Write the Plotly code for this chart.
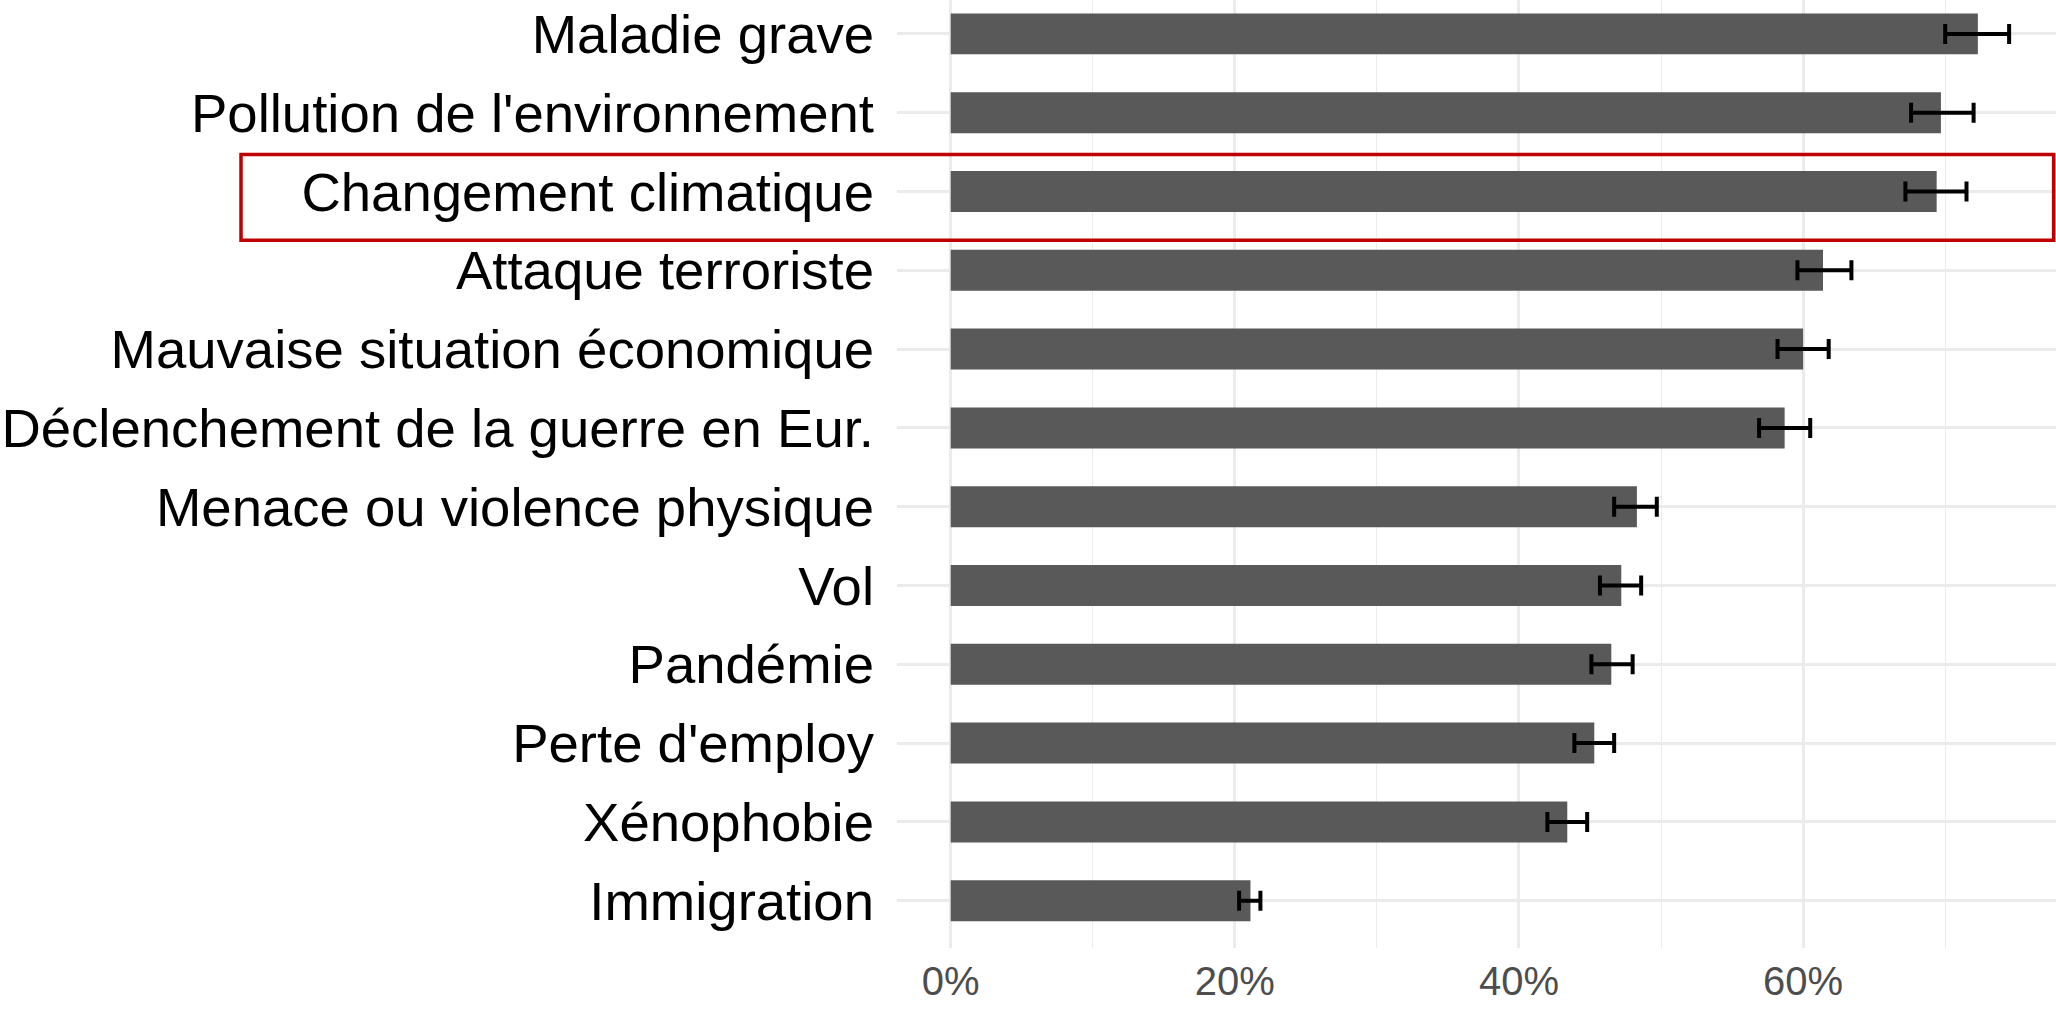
import plotly.graph_objects as go

# Risk categories, listed from bottom to top of the chart
categories = [
    "Immigration",
    "Xénophobie",
    "Perte d'employ",
    "Pandémie",
    "Vol",
    "Menace ou violence physique",
    "Déclenchement de la guerre en Eur.",
    "Mauvaise situation économique",
    "Attaque terroriste",
    "Changement climatique",
    "Pollution de l'environnement",
    "Maladie grave",
]

# Share of respondents (%) and confidence interval bounds (%)
share = [21.1, 43.4, 45.3, 46.5, 47.2, 48.3, 58.7, 60.0, 61.4, 69.4, 69.7, 72.3]
ci_low = [20.3, 42.0, 43.9, 45.1, 45.7, 46.7, 56.9, 58.2, 59.6, 67.2, 67.6, 70.0]
ci_high = [21.8, 44.8, 46.7, 48.0, 48.6, 49.7, 60.5, 61.8, 63.4, 71.5, 72.0, 74.5]

x_ticks = [0, 20, 40, 60]
x_tick_labels = ["0%", "20%", "40%", "60%"]

highlight = "Changement climatique"

err_plus = [h - v for h, v in zip(ci_high, share)]
err_minus = [v - l for v, l in zip(share, ci_low)]

FONT = "Liberation Sans, Arial, Helvetica, sans-serif"
GRID = "#ebebeb"

fig = go.Figure(
    go.Bar(
        x=share,
        y=categories,
        orientation="h",
        width=0.52,
        marker=dict(color="#595959", line=dict(width=0)),
        error_x=dict(
            type="data",
            symmetric=False,
            array=err_plus,
            arrayminus=err_minus,
            color="black",
            thickness=4,
            width=10,
        ),
        hoverinfo="x+y",
    )
)

# Highlight box around the climate-change row, reaching into the label margin
hi = categories.index(highlight)
fig.add_shape(
    type="rect",
    xref="paper",
    yref="y",
    x0=-0.566,
    x1=0.998,
    y0=hi - 0.62,
    y1=hi + 0.47,
    line=dict(color="#c00000", width=3.5),
    fillcolor="rgba(0,0,0,0)",
    layer="above",
)

fig.update_layout(
    width=2056,
    height=1010,
    margin=dict(l=897, r=0, t=0, b=62, autoexpand=False),
    paper_bgcolor="white",
    plot_bgcolor="white",
    showlegend=False,
    bargap=0.48,
    font=dict(family=FONT),
    xaxis=dict(
        range=[-3.78, 77.8],
        tickmode="array",
        tickvals=x_ticks,
        ticktext=x_tick_labels,
        tickfont=dict(size=40, color="#4d4d4d", family=FONT),
        showgrid=True,
        gridcolor=GRID,
        gridwidth=2.7,
        zeroline=False,
        showline=False,
        ticks="",
        ticklabelstandoff=6,
        automargin=False,
        minor=dict(
            tickmode="array",
            tickvals=[10, 30, 50, 70],
            showgrid=True,
            gridcolor=GRID,
            gridwidth=1.4,
            ticks="",
        ),
        fixedrange=True,
    ),
    yaxis=dict(
        type="category",
        categoryorder="array",
        categoryarray=categories,
        range=[-0.6, 11.43],
        tickfont=dict(size=54.5, color="black", family=FONT),
        showgrid=True,
        gridcolor=GRID,
        gridwidth=2.7,
        zeroline=False,
        showline=False,
        ticks="",
        ticklabelstandoff=22,
        automargin=False,
        fixedrange=True,
    ),
)

fig.write_html("out.html")
